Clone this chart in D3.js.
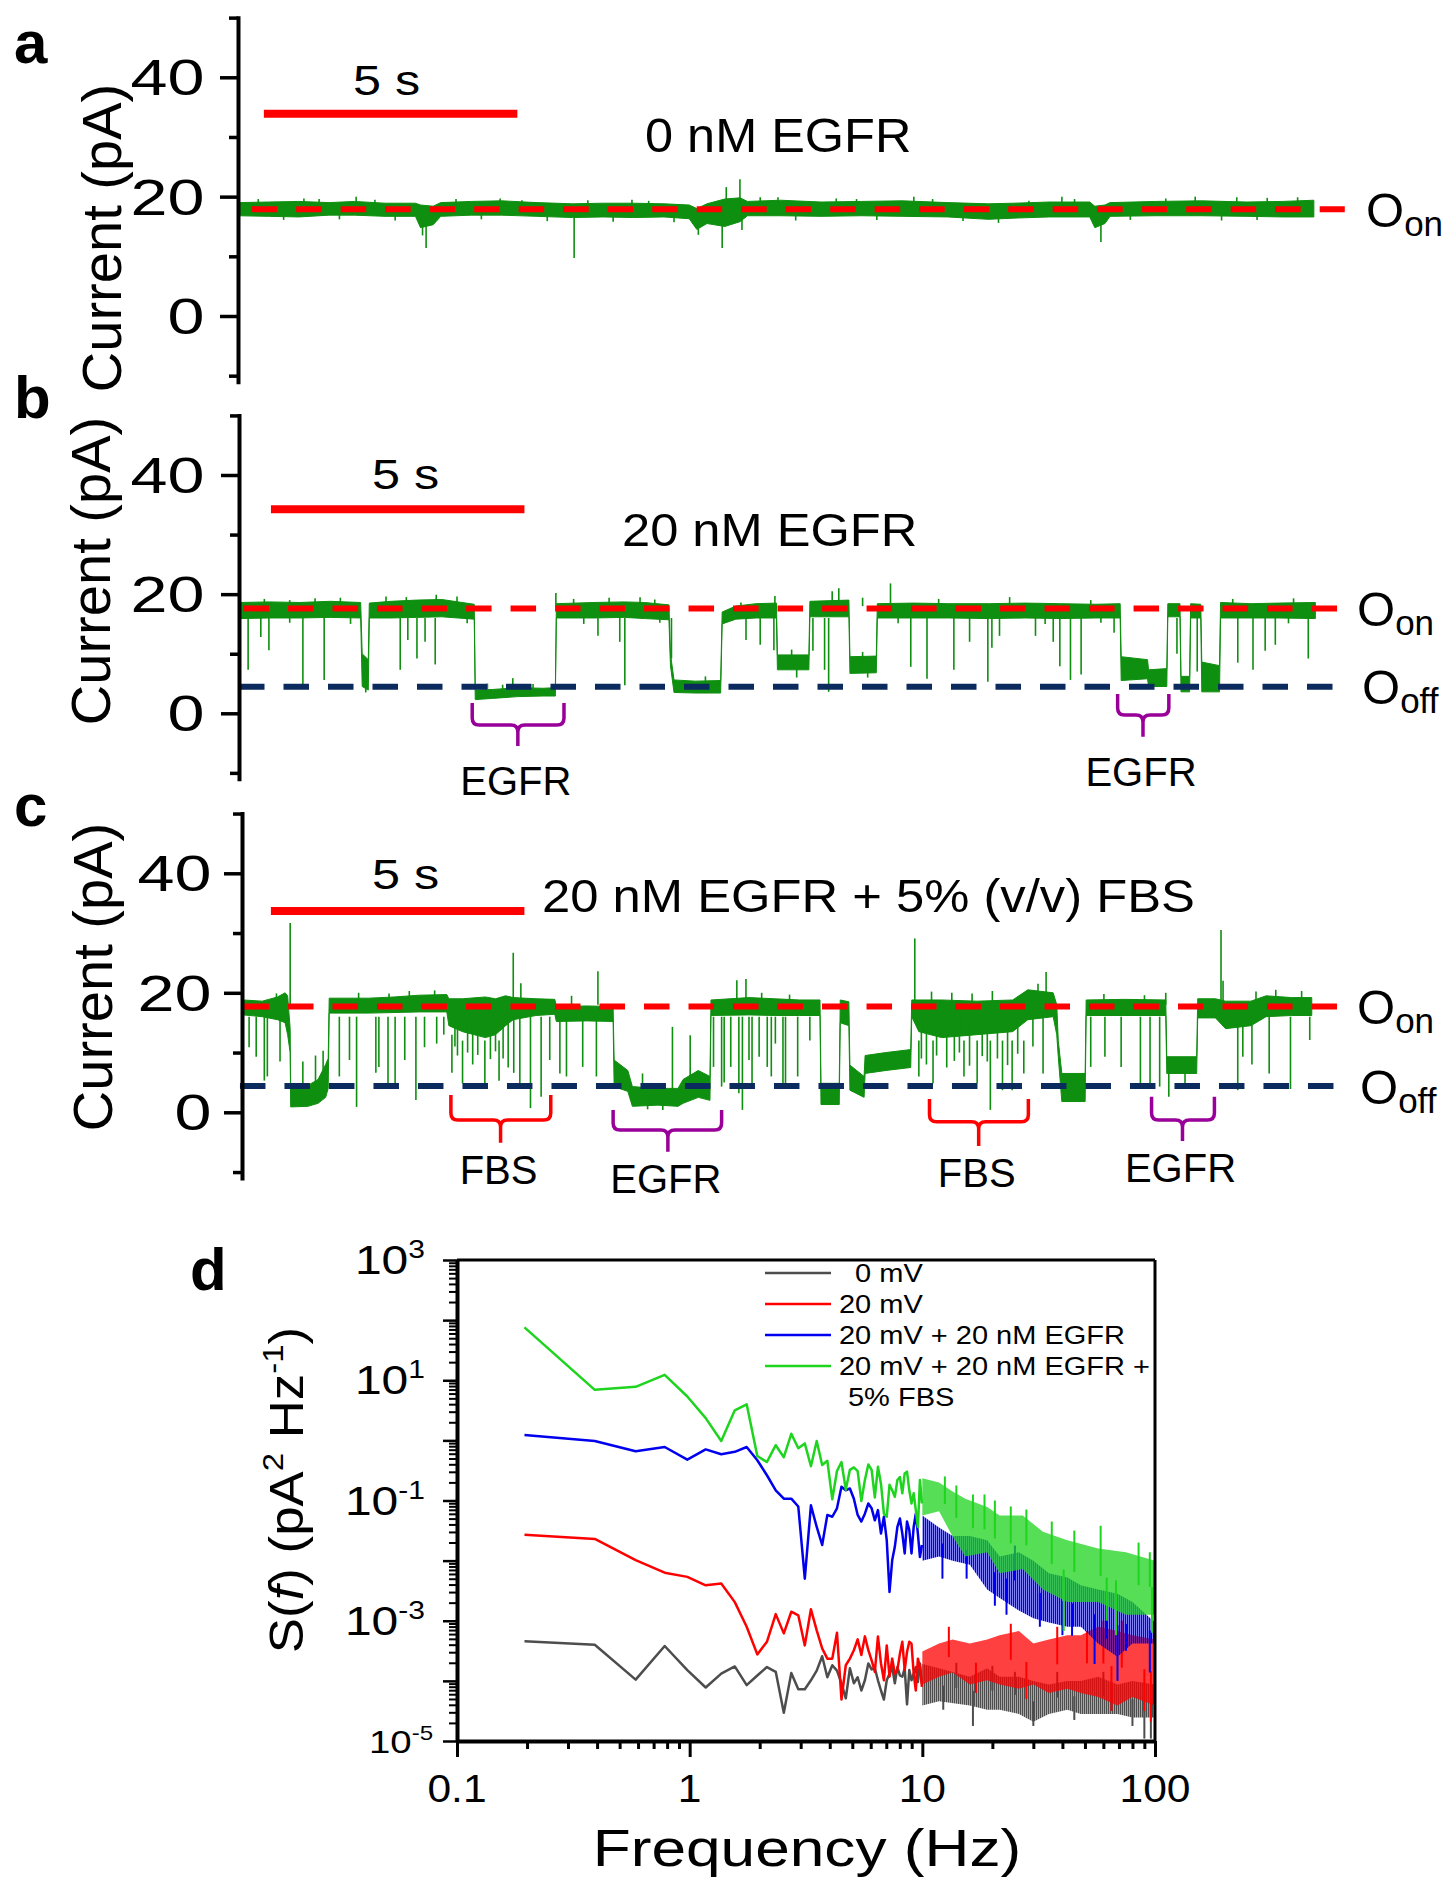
<!DOCTYPE html>
<html>
<head>
<meta charset="utf-8">
<script src="https://cdn.jsdelivr.net/npm/d3@7"></script>
<style>
  body { margin: 0; background: #fff; }
  svg { display: block; font-family: "Liberation Sans", Arial, sans-serif; }
</style>
</head>
<body>
<svg id="chart" width="1446" height="1880"></svg>
<script>
// ===================== DATA =====================
// Panels a–c: single-channel current recordings. time in s, current in pA.
const yMajorTicks = [0, 20, 40];
const yMinorTicks = [-10, 10, 30, 50];
const yTickLabels = ["0", "20", "40"];
const scaleBarSeconds = 5;

// noise band of the trace: [t, low, high]
const bandA = [[0.00,16.8,19.0],[0.60,16.7,19.1],[1.20,16.6,19.2],[1.80,16.9,19.0],[2.30,16.9,19.2],[2.90,16.7,18.9],[3.50,16.7,18.9],[3.60,14.8,18.6],[3.85,15.3,18.4],[4.00,16.7,19.0],[4.60,16.9,19.2],[5.20,16.9,19.3],[5.90,16.7,19.0],[6.60,16.5,18.8],[7.20,16.6,18.9],[7.80,16.5,18.9],[8.40,16.6,18.8],[8.90,16.3,18.6],[9.05,14.5,18.0],[9.25,15.5,18.8],[9.60,15.0,19.6],[9.90,15.8,19.8],[10.05,16.8,19.2],[10.70,16.8,19.4],[11.50,16.7,19.1],[12.30,16.8,19.2],[13.10,16.7,19.3],[14.00,16.6,19.0],[14.80,16.2,18.8],[15.30,16.4,18.9],[16.00,16.6,19.1],[16.80,16.6,19.1],[16.90,14.8,18.4],[17.10,15.5,18.6],[17.20,16.7,19.0],[18.10,16.8,19.2],[19.00,16.8,19.3],[19.90,16.7,19.1],[20.60,16.6,19.2],[21.22,16.6,19.4]];
// spikes: [t, from, to]
const spikesA = [[1.6,18.5,19.6],[2.33,18.5,20.0],[3.71,16.0,11.4],[3.64,16.0,13.5],[5.17,18.5,19.7],[6.63,17.0,9.7],[7.77,18.5,19.5],[9.08,16.0,13.6],[9.55,16.0,11.4],[9.63,18.5,21.6],[9.90,18.5,22.9],[9.94,17.0,14.4],[10.65,18.5,19.9],[12.2,18.5,19.6],[13.33,18.5,20.0],[16.25,18.5,20.0],[17.02,16.0,12.4],[18.88,18.5,20.0],[20.3,18.5,19.8],
  [0.4,18,19.6],[0.9,17,16.1],[1.3,18,19.7],[2.0,17,16.2],[2.7,18,19.5],[3.1,17,16.0],[4.3,18,19.6],[4.8,17,16.2],[5.6,18,19.4],[6.1,17,15.9],[6.9,18,19.4],[7.4,17,15.8],[8.1,18,19.3],[8.6,17,15.7],[10.3,18,19.9],[11.0,17,16.0],[11.8,18,19.7],[12.6,17,16.1],[13.7,18,19.6],[14.3,17,15.9],[15.0,17,15.6],[15.6,18,19.3],[16.5,18,19.6],[17.6,17,16.1],[18.3,18,19.7],[19.4,17,16.0],[19.7,18,19.9],[20.1,17,16.1],[20.9,18,19.9]];

const bandB = [[0.02,15.9,18.6],[0.60,16.0,18.7],[1.20,16.0,18.6],[1.80,16.1,18.8],[2.40,16.0,18.6],[2.43,4.5,10.0],[2.55,3.9,9.0],[2.57,16.0,18.5],[3.00,16.0,18.8],[3.50,16.1,19.0],[4.00,16.2,19.1],[4.64,15.8,18.3],[4.66,2.3,3.9],[5.00,2.5,4.0],[5.50,2.8,4.3],[6.00,2.9,4.2],[6.24,2.9,4.3],[6.26,16.0,18.4],[7.00,16.0,18.6],[7.60,16.1,18.7],[8.00,15.9,18.6],[8.48,15.7,18.2],[8.51,8.0,10.0],[8.58,3.5,5.6],[9.00,3.4,5.4],[9.50,3.4,5.5],[9.53,15.0,17.0],[9.80,15.8,18.0],[10.20,16.0,18.4],[10.60,16.0,18.5],[10.62,7.3,9.8],[11.24,7.3,9.8],[11.26,16.2,18.8],[12.03,16.2,19.0],[12.05,6.7,9.5],[12.57,6.8,9.6],[12.59,16.0,18.4],[13.30,16.0,18.5],[14.00,16.0,18.4],[14.80,15.9,18.4],[15.50,16.0,18.5],[16.20,15.9,18.4],[16.90,16.0,18.3],[17.38,16.0,18.4],[17.40,5.5,9.5],[17.92,5.8,9.0],[17.94,4.5,7.3],[18.30,4.5,7.5],[18.32,16.2,18.4],[18.56,16.2,18.4],[18.58,3.6,6.2],[18.75,3.6,6.2],[18.77,16.0,18.4],[18.97,16.0,18.3],[18.99,3.6,8.6],[19.34,3.6,8.0],[19.36,16.0,18.6],[19.96,16.0,18.4],[20.50,16.0,18.5],[21.23,15.9,18.6]];
const spikesB = [[0.18,16,7.3],[0.43,16,12.8],[0.59,16,10.6],[1.26,16,4.7],[1.68,16,5.6],[2.50,8,3.5],[3.18,16,7.3],[3.33,16,12.3],[3.51,16,9.2],[3.67,16,12.0],[3.87,16,8.2],[3.89,18,19.9],[4.9,4,5.0],[5.4,4,5.9],[6.25,18,20.2],[7.08,16,13],[7.51,16,12],[7.61,16,4.7],[7.91,18,19.5],[8.53,16,9.2],[10.0,16,12.3],[10.28,16,11.5],[10.57,18,19.7],[10.55,16,10.6],[11.32,16,10.5],[11.55,16,7.3],[11.63,16,3.6],[11.83,18,21.0],[11.7,18,20.5],[12.85,18,21.8],[13.25,16,7.8],[13.57,16,5.8],[14.10,16,7.3],[14.41,16,12],[14.77,16,5.3],[14.85,16,11],[15.0,16,13],[15.71,16,13],[16.06,16,12],[16.19,16,7.9],[16.40,16,5.6],[16.61,16,6.5],[17.26,16,13.5],[18.5,16,10],[18.9,16,7],[19.7,16,8.5],[20.0,16,7.3],[20.24,16,10.5],[20.44,16,11.5],[21.09,16,9.2],
  [0.5,18,19.2],[1.0,18,19.0],[1.5,18,19.3],[2.0,18,19.4],[2.9,18,19.6],[3.3,18,19.5],[4.3,18,19.6],[6.6,18,19.2],[7.3,18,19.4],[8.2,18,19.1],[9.9,17,18.6],[12.3,18,19.4],[13.8,18,19.2],[15.2,18,19.5],[16.8,18,19.0],[19.6,18,19.2],[20.8,18,19.3],[5.2,3,4.8],[5.8,3,4.9],[9.2,4,6.2],[10.9,8,10.7],[11.0,8,6.0],[12.3,8,10.3],[12.4,8,6.0],
  [1.0,17,15.2],[2.2,17,15.0],[4.5,17,15.1],[6.8,17,15.0],[8.3,17,15.2],[13.0,17,15.1],[15.9,17,15.0],[17.0,17,15.2],[20.7,17,15.1]];

const bandC = [[0.03,16.3,18.8],[0.40,16.0,18.6],[0.70,15.5,19.3],[0.85,15.0,20.0],[0.90,13.0,19.5],[0.95,10.0,14.0],[0.96,0.9,4.0],[1.30,1.0,4.5],[1.50,1.5,5.5],[1.65,2.5,8.0],[1.70,4.0,9.0],[1.72,16.6,19.1],[2.50,16.6,19.1],[3.00,16.7,19.3],[3.50,16.8,19.6],[4.04,16.8,19.7],[4.08,14.5,19.0],[4.35,13.5,19.0],[4.80,12.5,19.3],[5.00,13.0,19.0],[5.20,14.5,19.5],[5.35,15.5,19.2],[5.80,16.2,19.0],[6.17,16.4,18.9],[6.20,15.2,17.7],[6.80,15.3,17.8],[7.32,15.2,17.7],[7.34,4.3,8.75],[7.61,3.5,7.0],[7.70,1.0,4.3],[8.20,1.2,4.0],[8.60,1.0,4.0],[8.70,1.5,5.5],[9.00,2.5,7.0],[9.23,2.0,6.0],[9.25,16.2,18.8],[10.00,16.3,19.2],[10.50,16.2,19.0],[11.00,16.2,18.8],[11.40,16.2,18.8],[11.42,1.3,4.85],[11.78,1.3,4.85],[11.80,15.0,18.8],[11.97,14.5,18.5],[11.99,3.7,7.9],[12.27,2.5,6.0],[12.29,6.5,9.5],[12.70,7.0,10.0],[13.19,7.5,10.5],[13.21,16.0,18.8],[13.35,13.5,18.8],[13.80,12.5,18.8],[14.50,13.0,18.6],[15.20,13.5,18.8],[15.50,15.5,20.5],[16.00,16.0,20.0],[16.07,13.0,18.0],[16.10,9.3,12.0],[16.17,1.8,6.5],[16.63,1.8,6.5],[16.65,16.2,18.8],[17.40,16.2,18.9],[18.22,16.2,18.8],[18.24,6.5,9.3],[18.83,6.5,9.3],[18.85,15.8,19.0],[19.20,15.8,19.0],[19.40,14.0,18.6],[19.90,14.5,18.6],[20.20,16.0,19.5],[20.70,16.2,19.2],[21.10,16.2,19.2]];
const spikesC = [[0.14,16,10.9],[0.28,16,9.3],[0.44,16,5.3],[0.5,16,6.0],[0.68,18,19.9],[0.75,16,8.5],[0.95,18,31.7],[1.2,3,8.5],[1.45,3,9.5],[1.6,3,10.3],[1.92,16,6.0],[2.12,16,8.75],[2.26,16,0.9],[2.64,16,6.6],[2.70,16,7.6],[2.88,16,4.85],[3.02,16,4.85],[3.21,16,8.75],[3.43,16,2.06],[3.6,16,10.9],[3.84,16,11.5],[3.98,16,13],[4.14,13,6.6],[4.35,12,4.85],[4.79,12,4.0],[5.07,12,5.3],[5.35,18,26.7],[5.5,18,21.6],[5.36,16,6.6],[5.48,16,4.3],[5.69,16,0.7],[5.90,16,2.6],[6.07,16,8.75],[6.27,16,6.5],[6.4,16,6.0],[6.72,16,7.6],[6.99,16,6.0],[7.02,18,23.6],[7.9,3,6.5],[8.49,3,14.3],[8.84,5,12.9],[9.3,16,7.6],[9.46,16,4.3],[9.51,16,5.0],[9.64,16,7.6],[9.76,18,22.1],[9.80,16,3.2],[9.87,16,0.4],[9.94,18,22.3],[10.0,16,8.75],[10.06,16,4.85],[10.2,16,9.3],[10.25,18,20],[10.36,16,7.6],[10.44,16,6.0],[10.52,16,11.5],[10.67,16,4.85],[10.72,16,4.85],[10.96,16,6.0],[11.2,16,12],[13.27,18,29.1],[13.35,12,6.0],[13.63,12,4.85],[14.24,12,6.0],[14.5,12,4.85],[14.76,12,0.4],[15.0,12,3.7],[15.19,12,3.7],[15.42,12,6.5],[15.80,16,6.5],[15.86,18,23.5],[16.74,16,7.6],[17.02,16,9.3],[17.34,16,7.6],[17.72,16,4.0],[17.91,16,4.85],[18.10,16,4.3],[18.22,18,20],[18.28,7,2.6],[18.6,7,3.9],[19.31,18,30.5],[19.35,18,22],[19.64,16,3.7],[19.74,16,9.3],[19.92,16,8.0],[20.26,16,6.5],[20.39,18,20.5],[20.68,16,3.9],[21.06,16,12.1],
  [4.2,16,11.0],[4.25,16,9.5],[4.45,16,10.0],[4.55,16,8.0],[4.65,16,9.6],[4.9,16,8.9],[5.0,16,10.2],[5.15,16,9.0],[5.25,16,7.5],
  [13.4,16,9.0],[13.5,16,8.0],[13.7,16,9.5],[13.9,16,7.5],[14.05,16,8.6],[14.15,16,10],[14.35,16,7.8],[14.6,16,9.4],[14.7,16,8.5],[14.9,16,9.0],[15.1,16,7.9],[15.3,16,9.8],[15.6,16,11],[15.7,18,21.5],[13.6,18,20.2],[14.0,18,20.0],[14.4,18,19.9],[14.8,18,20.3],
  [2.3,18,20.0],[2.9,18,19.9],[3.3,18,20.3],[3.8,18,20.4],[6.5,18,19.5],[10.8,18,19.7],[17.0,18,19.8],[17.8,18,19.6],[20.0,18,20.2],[20.9,18,20.3],[8.0,3,0.5],[8.3,3,0.4]];

// reference levels: [state, current, t start, t end]
const levelsA = [["on", 17.9, 0.27, 21.83]];
const levelsB = [["on", 17.6, 0.09, 21.67], ["off", 4.46, 0.0, 21.58]];
const levelsC = [["on", 17.7, 0.03, 21.62], ["off", 4.4, -0.04, 21.57]];
// 5 s scale bar start: [t, current]
const scaleBarA = [0.51, 33.9];
const scaleBarB = [0.63, 34.25];
const scaleBarC = [0.57, 33.7];
// brackets: [label, t left, t middle, t right, top, horizontal, tip]
const bracketsB = [["EGFR", 4.60, 5.50, 6.41, 1.73, -1.96, -5.48], ["EGFR", 17.33, 17.83, 18.34, 3.24, -0.28, -3.92]];
const bracketsC = [["FBS", 4.12, 5.10, 6.09, 2.90, -1.29, -5.09], ["EGFR", 7.32, 8.40, 9.46, 0.38, -2.96, -6.59], ["FBS", 13.56, 14.53, 15.51, 2.23, -1.57, -5.64], ["EGFR", 17.94, 18.55, 19.18, 2.61, -1.29, -4.80]];
const titles = ["0 nM EGFR", "20 nM EGFR", "20 nM EGFR + 5% (v/v) FBS"];

// Panel d: power spectral density, log10 S(f) in pA^2/Hz
const psdFreq = [0.195,0.391,0.586,0.781,0.977,1.172,1.367,1.563,1.758,1.953,2.148,2.344,2.539,2.734,2.930,3.125,3.320,3.516,3.711,3.906,4.102,4.297,4.492,4.688,4.883,5.078,5.273,5.469,5.664,5.859,6.055,6.250,6.445,6.641,6.836,7.031,7.227,7.422,7.617,7.813,8.008,8.203,8.398,8.594,8.789,8.984,9.180,9.375,9.570,9.766,9.961];
const psd0mV = [-3.34,-3.40,-3.98,-3.42,-3.82,-4.11,-3.88,-3.76,-4.07,-3.91,-3.77,-3.85,-4.53,-3.87,-4.14,-4.14,-3.99,-3.83,-3.59,-3.94,-3.74,-3.83,-4.04,-4.29,-3.79,-4.04,-3.94,-4.16,-3.99,-3.71,-3.81,-3.79,-3.99,-4.16,-4.31,-3.99,-3.88,-3.77,-4.04,-3.77,-3.91,-3.93,-3.79,-4.39,-3.82,-3.99,-3.88,-3.77,-4.02,-3.71,-4.04];
const psd20mV = [-1.57,-1.64,-1.99,-2.20,-2.27,-2.41,-2.38,-2.69,-3.10,-3.56,-3.35,-2.89,-3.21,-2.85,-2.91,-3.41,-2.81,-3.16,-3.46,-3.63,-3.63,-3.20,-4.31,-3.74,-3.63,-3.49,-3.31,-3.57,-3.26,-3.49,-3.66,-3.85,-3.26,-3.71,-3.99,-3.41,-3.93,-3.63,-3.88,-3.82,-3.55,-3.35,-3.82,-3.52,-3.35,-3.38,-3.88,-4.16,-3.63,-3.77,-4.10];
const psdEGFR = [0.09,-0.01,-0.18,-0.11,-0.32,-0.15,-0.23,-0.19,-0.11,-0.33,-0.58,-0.83,-0.97,-0.97,-1.10,-2.30,-1.08,-1.44,-1.74,-1.24,-1.27,-1.13,-0.77,-0.83,-0.80,-0.97,-1.24,-1.35,-1.22,-1.05,-1.13,-1.33,-1.16,-1.55,-1.27,-1.66,-2.52,-1.99,-1.77,-1.44,-1.30,-1.55,-1.88,-1.35,-1.49,-1.88,-1.44,-1.22,-1.55,-1.94,-1.74];
const psdEGFRFBS = [1.88,0.84,0.89,1.09,0.73,0.37,-0.01,0.50,0.60,-0.26,-0.36,-0.08,-0.28,0.11,-0.13,-0.05,-0.43,-0.01,-0.41,-0.34,-0.98,-0.51,-0.36,-0.82,-0.49,-0.45,-0.51,-1.01,-0.66,-0.40,-0.49,-0.95,-0.44,-0.72,-1.22,-1.27,-0.74,-0.83,-0.94,-0.66,-0.61,-0.88,-0.55,-0.52,-0.83,-1.05,-0.88,-1.16,-1.44,-0.66,-1.05];
// dense high-frequency part: envelope [f, log10 low, log10 high]
const band0mV = [[10,-4.41,-3.72],[11.8,-4.34,-3.79],[16,-4.41,-3.93],[19,-4.48,-3.79],[21.5,-4.48,-3.93],[26,-4.55,-3.93],[30,-4.68,-4.00],[35,-4.55,-4.06],[42,-4.48,-4.00],[48,-4.55,-4.00],[57,-4.55,-3.93],[69,-4.55,-4.06],[80,-4.61,-4.00],[100,-4.61,-4.06]];
const band20mV = [[10,-4.06,-3.51],[11.8,-3.93,-3.38],[13.5,-3.86,-3.31],[16,-4.06,-3.38],[19,-3.99,-3.31],[21.5,-4.06,-3.24],[26,-4.13,-3.17],[30,-4.06,-3.38],[35,-4.20,-3.31],[42,-4.13,-3.24],[48,-4.20,-3.24],[57,-4.27,-3.10],[69,-4.41,-3.17],[80,-4.27,-3.24],[100,-4.41,-3.31]];
const bandEGFR = [[10,-2.00,-1.25],[11.8,-1.93,-1.45],[13.5,-2.00,-1.59],[16,-2.07,-1.59],[19,-2.48,-1.66],[21.5,-2.62,-1.93],[26,-2.83,-1.86],[30,-2.96,-2.00],[35,-3.03,-2.21],[42,-3.10,-2.28],[48,-3.10,-2.41],[57,-3.38,-2.48],[69,-3.60,-2.55],[80,-3.38,-2.69],[100,-3.38,-3.03]];
const bandEGFRFBS = [[10,-1.25,-0.63],[11.8,-1.18,-0.70],[13.5,-1.60,-0.85],[15.3,-1.93,-0.97],[19,-1.86,-1.11],[21.5,-2.21,-1.25],[27,-2.14,-1.25],[33,-2.48,-1.52],[42,-2.69,-1.66],[57,-2.69,-1.80],[75,-2.90,-1.86],[100,-2.90,-2.00]];
// isolated excursions out of the envelope: [f, log10 value]
const spikes0mV = [[12.3,-4.48],[14,-3.7],[16.5,-4.75],[20,-3.75],[25,-3.85],[30,-4.75],[38,-3.85],[45,-4.65],[60,-3.85],[80,-4.75],[90,-4.96],[96,-4.96]];
const spikes20mV = [[13,-3.10],[17,-4.2],[24,-3.05],[28,-4.3],[38,-3.1],[51,-3.17],[60,-3.0],[65,-4.5],[72,-3.0],[90,-4.5],[96,-4.68]];
const spikesEGFR = [[12.2,-2.3],[15.5,-2.3],[20.5,-2.75],[23,-2.9],[25,-1.75],[32,-3.1],[40,-3.24],[44,-3.25],[55,-3.72],[62,-3.3],[69,-4.0],[75,-3.5],[95,-3.86]];
const spikesEGFRFBS = [[12.5,-0.6],[14,-0.75],[16.5,-0.9],[18.5,-0.9],[20.5,-1.0],[24,-1.1],[28,-1.15],[36,-1.35],[40.5,-3.17],[45,-1.5],[58.4,-1.42],[62,-3.0],[68,-3.24],[85,-1.7],[95,-1.86],[97,-3.2]];
const legendLabels = ["\u20070 mV", "20 mV", "20 mV + 20 nM EGFR", "20 mV + 20 nM EGFR +"];
const legendExtra = "5% FBS";
const xTickValuesD = [0.1, 1, 10, 100];
const xTickLabelsD = ["0.1", "1", "10", "100"];
const yLabelExponentsD = [3, 1, -1, -3, -5];

// ===================== DRAWING =====================
const svg = d3.select("#chart");
const GREEN = "#0f8f0f", RED = "#ff0000", NAVY = "#0b2a5e", PURPLE = "#990099";

function txt(g, str, x, y, size, o = {}) {
  const t = g.append("text")
    .attr("transform", `translate(${x},${y})${o.rotate ? ` rotate(${o.rotate})` : ""} scale(${o.sx || 1},1)`)
    .attr("font-size", size)
    .attr("text-anchor", o.anchor || "start")
    .attr("fill", o.fill || "#000");
  if (o.bold) t.attr("font-weight", "bold");
  if (str !== null) t.text(str);
  return t;
}

function drawTracePanel(p) {
  const g = svg.append("g");
  const x = d3.scaleLinear().domain([0, scaleBarSeconds]).range([p.axisX, p.axisX + 253.5]);
  const y0 = d3.scaleLinear().domain([0, 40]).range([p.y0, p.y40]);
  const y = y0.copy().domain([-11, 50]).range([y0(-11), y0(50)]);

  // trace
  g.append("path").datum(p.band)
    .attr("d", d3.area().x(d => x(d[0])).y0(d => y(d[1])).y1(d => y(d[2])))
    .attr("fill", GREEN).attr("stroke", GREEN).attr("stroke-width", 1);
  g.append("g").selectAll("line").data(p.spikes).join("line")
    .attr("x1", d => x(d[0])).attr("x2", d => x(d[0]))
    .attr("y1", d => y(d[1])).attr("y2", d => y(d[2]))
    .attr("stroke", GREEN).attr("stroke-width", 1.6);

  // levels
  p.levels.forEach(([name, v, t0, t1]) => {
    g.append("line").attr("x1", x(t0)).attr("x2", x(t1)).attr("y1", y(v)).attr("y2", y(v))
      .attr("stroke", name === "on" ? RED : NAVY).attr("stroke-width", 6)
      .attr("stroke-dasharray", "25.5 19");
    const ot = g.append("text").attr("x", p.oX[name]).attr("y", y(v) + 17.5).attr("font-size", 49);
    ot.append("tspan").text("O");
    ot.append("tspan").attr("font-size", 35).attr("dy", 9).text(name);
  });

  // axis
  const ax = g.append("g").attr("transform", `translate(${p.axisX},0)`)
    .call(d3.axisLeft(y).tickValues(yMajorTicks).tickSize(18).tickSizeOuter(0).tickFormat(""));
  ax.select(".domain").attr("stroke-width", 4).attr("stroke-linecap", "square");
  ax.selectAll(".tick line").attr("stroke-width", 3.5);
  const axm = g.append("g").attr("transform", `translate(${p.axisX},0)`)
    .call(d3.axisLeft(y).tickValues(yMinorTicks).tickSize(9).tickFormat(""));
  axm.select(".domain").remove();
  axm.selectAll(".tick line").attr("stroke-width", 3.5);
  yMajorTicks.forEach((v, i) => txt(g, yTickLabels[i], p.tickRight, y(v) + 18, 50, { anchor: "end", sx: 1.33 }));

  txt(g, "Current (pA)", p.ylab[0], p.ylab[1], 55, { rotate: -90, anchor: "middle", sx: 1.02 });
  txt(g, p.panel, 14, p.panelY, 60, { bold: true });
  txt(g, p.title, p.titlePos[0], p.titlePos[1], p.titlePos[2], { sx: p.titlePos[3] });

  // scale bar
  const [bt, bv] = p.bar;
  g.append("line").attr("x1", x(bt)).attr("x2", x(bt + scaleBarSeconds))
    .attr("y1", y(bv)).attr("y2", y(bv)).attr("stroke", RED).attr("stroke-width", 8);
  txt(g, "5 s", (x(bt) + x(bt + scaleBarSeconds)) / 2 + p.barDx, y(bv) + p.barDy, 42, { anchor: "middle", sx: 1.2 });

  // brackets
  p.brackets.forEach(([lab, tL, tM, tR, vTop, vH, vTip]) => {
    const xl = x(tL), xm = x(tM), xr = x(tR), yt = y(vTop), yh = y(vH), yp = y(vTip), r = 7;
    const col = lab === "FBS" ? RED : PURPLE;
    const d = `M${xl},${yt} V${yh - r} Q${xl},${yh} ${xl + r},${yh} H${xm - r} Q${xm},${yh} ${xm},${yh + r} V${yp}` +
              ` M${xm},${yh + r} Q${xm},${yh} ${xm + r},${yh} H${xr - r} Q${xr},${yh} ${xr},${yh - r} V${yt}`;
    g.append("path").attr("d", d).attr("fill", "none").attr("stroke", col).attr("stroke-width", 3.5);
    txt(g, lab, xm - 2, yp + p.bracketLabelDy, 40, { anchor: "middle" });
  });
}

drawTracePanel({ panel: "a", panelY: 63, axisX: 238, y0: 316, y40: 77.3, band: bandA, spikes: spikesA,
  levels: levelsA, oX: { on: 1366 }, tickRight: 204.5, ylab: [121, 238], title: titles[0], titlePos: [645, 152, 49, 1.03],
  bar: scaleBarA, barDx: -4, barDy: -19, brackets: [], bracketLabelDy: 45 });
drawTracePanel({ panel: "b", panelY: 418, axisX: 239, y0: 713.3, y40: 475, band: bandB, spikes: spikesB,
  levels: levelsB, oX: { on: 1357, off: 1362 }, tickRight: 204.5, ylab: [110, 571], title: titles[1], titlePos: [622, 546, 46, 1.1],
  bar: scaleBarB, barDx: 8, barDy: -20, brackets: bracketsB, bracketLabelDy: 49 });
drawTracePanel({ panel: "c", panelY: 826, axisX: 242, y0: 1112.3, y40: 873.3, band: bandC, spikes: spikesC,
  levels: levelsC, oX: { on: 1357, off: 1360 }, tickRight: 211.5, ylab: [112, 977], title: titles[2], titlePos: [542, 912, 47, 1.08],
  bar: scaleBarC, barDx: 8, barDy: -22, brackets: bracketsC, bracketLabelDy: 41 });

// ---------- Panel d ----------
(function () {
  const g = svg.append("g");
  const x = d3.scaleLog().domain([0.1, 100]).range([457, 1155]);
  const y = d3.scaleLog().domain([1e-5, 1e3]).range([1741, 1260]);
  const L = v => Math.pow(10, v);

  const series = [
    { col: "#4d4d4d", vals: psd0mV, band: band0mV, spikes: spikes0mV },
    { col: "#ff0000", vals: psd20mV, band: band20mV, spikes: spikes20mV },
    { col: "#0000ee", vals: psdEGFR, band: bandEGFR, spikes: spikesEGFR },
    { col: "#1ed41e", vals: psdEGFRFBS, band: bandEGFRFBS, spikes: spikesEGFRFBS }
  ];
  // dense-noise texture for the high-frequency envelopes
  const defs = svg.append("defs");
  series.forEach((s, i) => {
    const pat = defs.append("pattern").attr("id", "hatch" + i).attr("patternUnits", "userSpaceOnUse")
      .attr("width", 2).attr("height", 8).attr("x", i * 0.5);
    pat.append("rect").attr("width", 1.5).attr("height", 8).attr("fill", s.col);
  });
  series.forEach((s, i) => {
    g.append("path").datum(s.vals.map((v, k) => [psdFreq[k], L(v)]))
      .attr("d", d3.line().x(d => x(d[0])).y(d => y(d[1])))
      .attr("fill", "none").attr("stroke", s.col).attr("stroke-width", 2.5).attr("stroke-linejoin", "round");
    g.append("path").datum(s.band)
      .attr("d", d3.area().x(d => x(d[0])).y0(d => y(L(d[1]))).y1(d => y(L(d[2]))))
      .attr("fill", `url(#hatch${i})`).attr("stroke", "none");
    const mid = f => {
      const b = s.band; let k = d3.bisector(d => d[0]).left(b, f); k = Math.max(1, Math.min(b.length - 1, k));
      const a = b[k - 1], c = b[k], t = (f - a[0]) / (c[0] - a[0]);
      return ((a[1] + a[2]) / 2) * (1 - t) + ((c[1] + c[2]) / 2) * t;
    };
    g.append("g").selectAll("line").data(s.spikes).join("line")
      .attr("x1", d => x(d[0])).attr("x2", d => x(d[0]))
      .attr("y1", d => y(L(mid(d[0])))).attr("y2", d => y(L(d[1])))
      .attr("stroke", s.col).attr("stroke-width", 2);
  });

  // frame
  g.append("line").attr("x1", 457).attr("x2", 1155).attr("y1", 1260).attr("y2", 1260).attr("stroke", "#000").attr("stroke-width", 3);
  g.append("line").attr("x1", 1155).attr("x2", 1155).attr("y1", 1260).attr("y2", 1741).attr("stroke", "#000").attr("stroke-width", 3);
  const decades = d3.range(-5, 4).map(e => Math.pow(10, e));
  const minorsY = [];
  d3.range(-5, 3).forEach(e => d3.range(2, 10).forEach(m => minorsY.push(m * Math.pow(10, e))));
  const ay = g.append("g").attr("transform", "translate(457,0)")
    .call(d3.axisLeft(y).tickValues(decades).tickSize(14).tickSizeOuter(0).tickFormat(""));
  ay.select(".domain").attr("stroke-width", 4);
  ay.selectAll(".tick line").attr("stroke-width", 2.5);
  const aym = g.append("g").attr("transform", "translate(457,0)")
    .call(d3.axisLeft(y).tickValues(minorsY).tickSize(8).tickFormat(""));
  aym.select(".domain").remove();
  aym.selectAll(".tick line").attr("stroke-width", 2);

  const minorsX = [];
  [-1, 0, 1].forEach(e => d3.range(2, 10).forEach(m => minorsX.push(m * Math.pow(10, e))));
  const axb = g.append("g").attr("transform", "translate(0,1741)")
    .call(d3.axisBottom(x).tickValues(xTickValuesD).tickSize(16).tickSizeOuter(0).tickFormat(""));
  axb.select(".domain").attr("stroke-width", 4);
  axb.selectAll(".tick line").attr("stroke-width", 3);
  const axbm = g.append("g").attr("transform", "translate(0,1741)")
    .call(d3.axisBottom(x).tickValues(minorsX).tickSize(8).tickFormat(""));
  axbm.select(".domain").remove();
  axbm.selectAll(".tick line").attr("stroke-width", 3);

  xTickValuesD.forEach((v, i) => txt(g, xTickLabelsD[i], x(v), 1802, 38, { anchor: "middle", sx: 1.12 }));
  yLabelExponentsD.forEach(e => {
    const small = e === -5;
    const t = txt(g, null, small ? 433 : 425, y(Math.pow(10, e)) + (small ? 12 : 14), small ? 32 : 40, { anchor: "end", sx: 1.2 });
    t.append("tspan").text("10");
    t.append("tspan").attr("font-size", small ? 20 : 25).attr("dy", small ? -13 : -16).text(String(e));
  });

  txt(g, "Frequency (Hz)", 807, 1866, 51, { anchor: "middle", sx: 1.22 });
  const yl = txt(g, null, 303, 1490, 48, { rotate: -90, anchor: "middle", sx: 1.1 });
  yl.append("tspan").text("S(");
  yl.append("tspan").attr("font-style", "italic").text("f");
  yl.append("tspan").text(") (pA");
  yl.append("tspan").attr("font-size", 30).attr("dy", -20).text("2");
  yl.append("tspan").attr("dy", 20).text(" Hz");
  yl.append("tspan").attr("font-size", 30).attr("dy", -20).text("-1");
  yl.append("tspan").attr("dy", 20).text(")");
  txt(g, "d", 190, 1290, 60, { bold: true });

  // legend
  const rowY = [1273, 1304, 1335, 1366];
  series.forEach((s, i) => {
    g.append("line").attr("x1", 765).attr("x2", 831).attr("y1", rowY[i]).attr("y2", rowY[i])
      .attr("stroke", s.col).attr("stroke-width", 2.5);
    txt(g, legendLabels[i], 839, rowY[i] + 9, 25, { sx: 1.16 });
  });
  txt(g, legendExtra, 848, 1406, 25, { sx: 1.16 });
})();
</script>
</body>
</html>
